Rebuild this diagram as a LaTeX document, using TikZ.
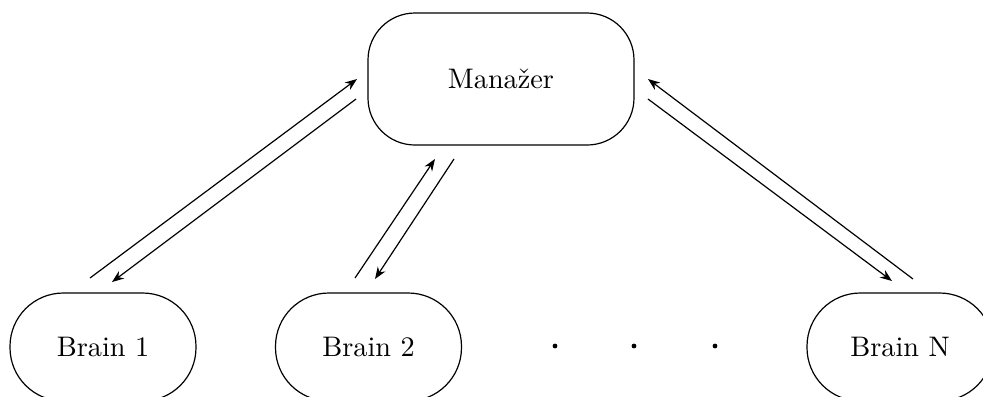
\documentclass[tikz,border=0pt]{standalone}
\usepackage{fontspec}
\usetikzlibrary{arrows.meta}
\begin{document}
\begin{tikzpicture}[x=0.375pt,y=-0.375pt,
  font=\fontsize{10.6}{12}\selectfont,
  mgr/.style={draw, line width=0.45pt, rounded corners=17.6pt, minimum width=99.75pt, minimum height=49.5pt, inner sep=0pt},
  brain/.style={draw, line width=0.45pt, rounded corners=20pt, minimum width=69.75pt, minimum height=40.5pt, inner sep=0pt},
  dotnode/.style={circle, fill=black, inner sep=0pt, minimum size=1.8pt},
  conn/.style={-{Stealth[length=4.5pt,width=3.4pt]}, line width=0.45pt}]
\useasboundingbox (0,0) rectangle (983,396);
\clip (0,0) rectangle (983,396);
\node[mgr] (m) at (501,79) {Manažer};
\node[brain] (b1) at (103,347) {Brain 1};
\node[brain] (b2) at (368.5,347) {Brain 2};
\node[brain] (bn) at (900,347) {Brain N};
\node[dotnode] (d1) at (555,346) {};
\node[dotnode] (d2) at (634,346) {};
\node[dotnode] (d3) at (715,346) {};
% left pair
\coordinate (a1s) at (90,278);
\coordinate (a1e) at (357,79);
\coordinate (a2s) at (356,99);
\coordinate (a2e) at (112,282);
\draw[conn] (a1s) -- (a1e);
\draw[conn] (a2s) -- (a2e);
% middle pair
\coordinate (c1s) at (355,278);
\coordinate (c1e) at (435,159);
\coordinate (c2s) at (454,159);
\coordinate (c2e) at (375,279);
\draw[conn] (c1s) -- (c1e);
\draw[conn] (c2s) -- (c2e);
% right pair
\coordinate (e1s) at (913,279);
\coordinate (e1e) at (648,79);
\coordinate (e2s) at (648,99);
\coordinate (e2e) at (892,281);
\draw[conn] (e1s) -- (e1e);
\draw[conn] (e2s) -- (e2e);
\end{tikzpicture}
\end{document}
